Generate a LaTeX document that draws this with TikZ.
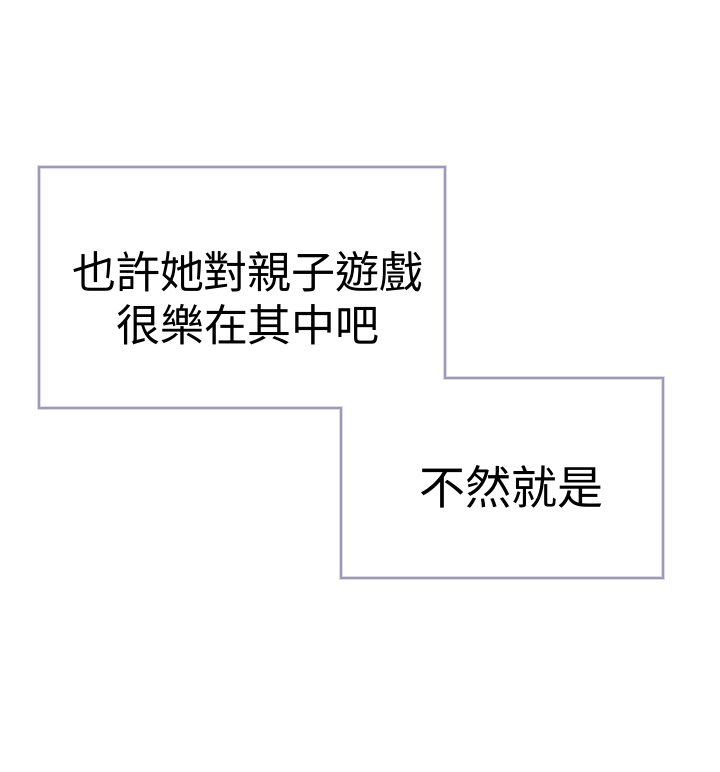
\documentclass[tikz,border=0pt]{standalone}
\usepackage{fontspec}
\newfontfamily\cjk{Noto Sans CJK TC}
\definecolor{edgeout}{HTML}{DCDAE8}
\definecolor{edgein}{HTML}{9C9AB4}
\tikzset{
  caption/.style={font=\cjk\fontsize{44}{53}\selectfont, align=center, inner sep=0pt, text=black},
  bigcaption/.style={caption, font=\cjk\fontsize{46}{53}\selectfont},
}
\begin{document}
\begin{tikzpicture}[x=1pt,y=-1pt]
\useasboundingbox (0,0) rectangle (720,772);
\fill[white] (0,0) rectangle (720,772);
% union outline of the two panels
\draw[edgeout, line width=4pt, fill=white] (39,167) -- (445,167) -- (445,378) -- (663,378) -- (663,578) -- (341,578) -- (341,408) -- (39,408) -- cycle;
\draw[edgein, line width=1.4pt] (39,167) -- (445,167) -- (445,378) -- (663,378) -- (663,578) -- (341,578) -- (341,408) -- (39,408) -- cycle;
\node[caption] (t1) at (248,298) {也許她對親子遊戲\\很樂在其中吧};
\node[bigcaption] (t2) at (511.5,487) {不然就是};
\end{tikzpicture}
\end{document}
